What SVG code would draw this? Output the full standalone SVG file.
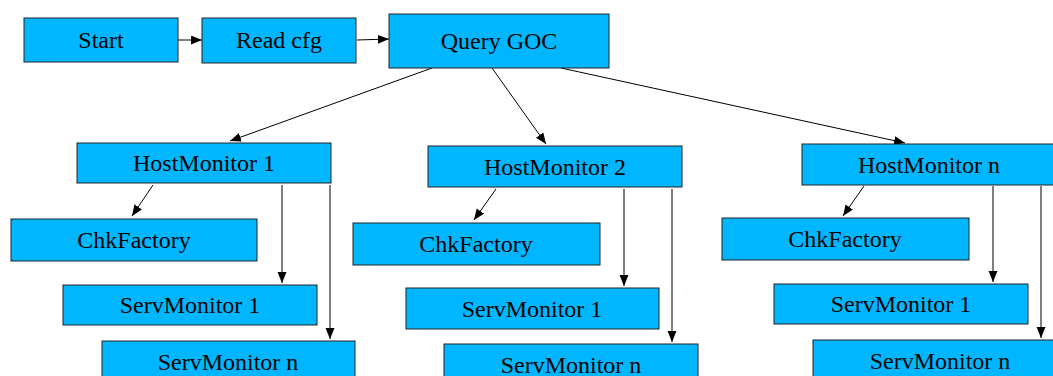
<svg xmlns="http://www.w3.org/2000/svg" width="1053" height="376" viewBox="0 0 1053 376">
<style>
.box{fill:#00b7ff;stroke:#222;stroke-width:1}
.lbl{font-family:"Liberation Serif","Times New Roman",serif;font-size:24px;fill:#000;text-anchor:middle}
.edge{stroke:#000;stroke-width:1;fill:none;marker-end:url(#ah)}
</style>
<defs>
<marker id="ah" markerUnits="userSpaceOnUse" markerWidth="12" markerHeight="10" refX="11" refY="4.5" orient="auto">
<path d="M0,0 L11,4.5 L0,9 z" fill="#000"/>
</marker>
</defs>
<rect width="1053" height="376" fill="#fff"/>
<g id="connectors">
<line class="edge" x1="178" y1="40" x2="202" y2="40"/>
<line class="edge" x1="357" y1="40" x2="389" y2="39"/>
<line class="edge" x1="432" y1="68" x2="230" y2="141"/>
<line class="edge" x1="492" y1="68" x2="546" y2="144"/>
<line class="edge" x1="561" y1="68" x2="905" y2="143"/>
<line class="edge" x1="153" y1="185" x2="132" y2="216"/>
<line class="edge" x1="282" y1="185" x2="282" y2="283"/>
<line class="edge" x1="330" y1="185" x2="330" y2="339"/>
<line class="edge" x1="496" y1="189" x2="474" y2="220"/>
<line class="edge" x1="624" y1="189" x2="624" y2="286"/>
<line class="edge" x1="672" y1="189" x2="672" y2="342"/>
<line class="edge" x1="864" y1="186" x2="843" y2="216"/>
<line class="edge" x1="993" y1="186" x2="993" y2="282"/>
<line class="edge" x1="1041" y1="186" x2="1041" y2="338"/>
</g>
<g id="start"><rect class="box" x="24" y="18" width="154" height="44"/><text class="lbl" x="101" y="48">Start</text></g>
<g id="readcfg"><rect class="box" x="202" y="18" width="154" height="45"/><text class="lbl" x="279" y="48">Read cfg</text></g>
<g id="querygoc"><rect class="box" x="389" y="14" width="220" height="54"/><text class="lbl" x="499" y="49">Query GOC</text></g>

<g id="hm1"><rect class="box" x="77" y="143" width="254" height="40"/><text class="lbl" x="204" y="171">HostMonitor 1</text></g>
<g id="chk1"><rect class="box" x="11" y="219" width="246" height="42"/><text class="lbl" x="134" y="248">ChkFactory</text></g>
<g id="sm1a"><rect class="box" x="63" y="285" width="254" height="40"/><text class="lbl" x="190" y="313">ServMonitor 1</text></g>
<g id="smna"><rect class="box" x="102" y="341" width="253" height="42"/><text class="lbl" x="228" y="370">ServMonitor n</text></g>

<g id="hm2"><rect class="box" x="428" y="146" width="254" height="41"/><text class="lbl" x="555" y="175">HostMonitor 2</text></g>
<g id="chk2"><rect class="box" x="353" y="223" width="247" height="42"/><text class="lbl" x="476" y="252">ChkFactory</text></g>
<g id="sm1b"><rect class="box" x="406" y="288" width="253" height="41"/><text class="lbl" x="532" y="317">ServMonitor 1</text></g>
<g id="smnb"><rect class="box" x="444" y="344" width="254" height="42"/><text class="lbl" x="571" y="373">ServMonitor n</text></g>

<g id="hmn"><rect class="box" x="802" y="144" width="254" height="41"/><text class="lbl" x="929" y="173">HostMonitor n</text></g>
<g id="chkn"><rect class="box" x="722" y="218" width="247" height="42"/><text class="lbl" x="845" y="247">ChkFactory</text></g>
<g id="sm1n"><rect class="box" x="774" y="284" width="254" height="40"/><text class="lbl" x="901" y="312">ServMonitor 1</text></g>
<g id="smnn"><rect class="box" x="813" y="340" width="254" height="42"/><text class="lbl" x="940" y="369">ServMonitor n</text></g>
</svg>
